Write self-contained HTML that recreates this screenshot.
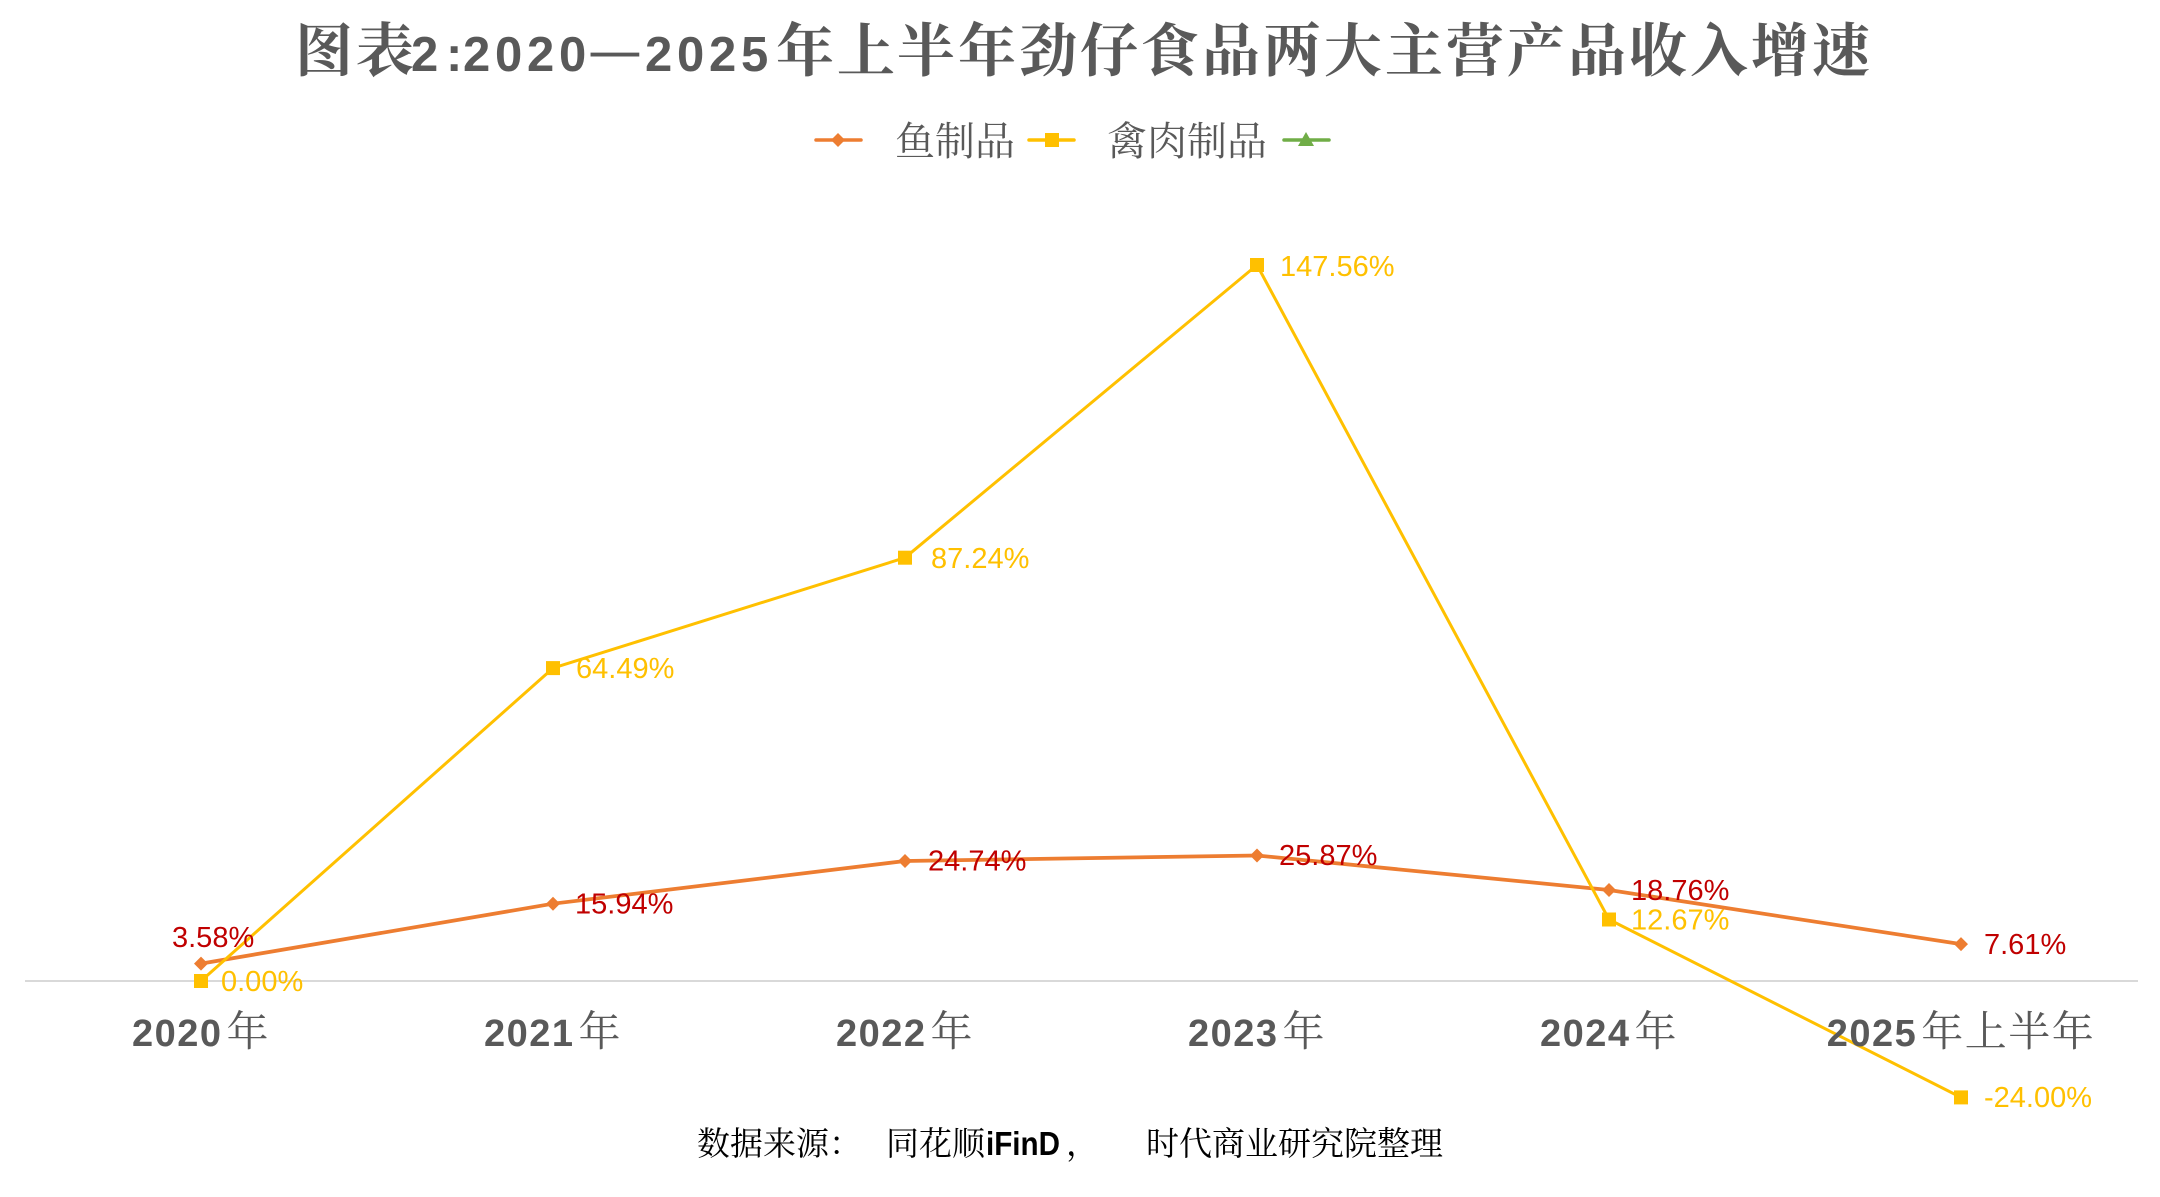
<!DOCTYPE html>
<html>
<head>
<meta charset="utf-8">
<style>
  html, body { margin: 0; padding: 0; background: #ffffff; }
  body { width: 2160px; height: 1197px; overflow: hidden; }
  svg { display: block; }
  .cjk { font-family: "Noto Serif CJK SC", "Noto Sans CJK SC", serif; }
  .num { font-family: "Liberation Sans", "Noto Sans CJK SC", sans-serif; }
</style>
</head>
<body>
<svg width="2160" height="1197" viewBox="0 0 2160 1197" xmlns="http://www.w3.org/2000/svg">
  <rect x="0" y="0" width="2160" height="1197" fill="#ffffff"/>

  <!-- Title -->
  <g fill="#595959">
    <text class="cjk" y="71" font-size="58" font-weight="bold" x="295 356">图表</text>
    <text class="num" y="71" font-size="49" font-weight="bold" x="411 446 463 495 527 559">2:2020</text>
    <text class="cjk" y="71" font-size="58" font-weight="bold" x="588">—</text>
    <text class="num" y="71" font-size="49" font-weight="bold" x="645 677 709 741">2025</text>
    <text class="cjk" y="71" font-size="58" font-weight="bold"
      x="776 837 897 958 1019 1080 1141 1202 1263 1324 1385 1446 1507 1568 1629 1690 1751 1812">年上半年劲仔食品两大主营产品收入增速</text>
  </g>

  <!-- Legend -->
  <g>
    <line x1="816" y1="140" x2="861" y2="140" stroke="#ED7D31" stroke-width="3.5" stroke-linecap="round"/>
    <polygon points="838,133 845,140 838,147 831,140" fill="#ED7D31"/>
    <text class="cjk" x="895" y="155" font-size="40" fill="#595959">鱼制品</text>

    <line x1="1029" y1="140" x2="1074" y2="140" stroke="#FFC000" stroke-width="3.5" stroke-linecap="round"/>
    <rect x="1045" y="133" width="14" height="14" fill="#FFC000"/>
    <text class="cjk" x="1107" y="155" font-size="40" fill="#595959">禽肉制品</text>

    <line x1="1284" y1="140" x2="1329" y2="140" stroke="#70AD47" stroke-width="3.5" stroke-linecap="round"/>
    <polygon points="1306,132 1314,146 1298,146" fill="#70AD47"/>
  </g>

  <!-- Axis line -->
  <line x1="25" y1="981" x2="2138" y2="981" stroke="#D9D9D9" stroke-width="2"/>

  <!-- Fish series (orange) -->
  <polyline fill="none" stroke="#ED7D31" stroke-width="3.75" stroke-linejoin="round"
    points="201,963.6 553,903.7 905,861 1257,855.5 1609,890 1961,944.1"/>
  <g fill="#ED7D31">
    <polygon points="201,956.6 208,963.6 201,970.6 194,963.6"/>
    <polygon points="553,896.7 560,903.7 553,910.7 546,903.7"/>
    <polygon points="905,854 912,861 905,868 898,861"/>
    <polygon points="1257,848.5 1264,855.5 1257,862.5 1250,855.5"/>
    <polygon points="1609,883 1616,890 1609,897 1602,890"/>
    <polygon points="1961,937.1 1968,944.1 1961,951.1 1954,944.1"/>
  </g>

  <!-- Poultry series (yellow) -->
  <polyline fill="none" stroke="#FFC000" stroke-width="3" stroke-linejoin="round"
    points="201,981 553,668.1 905,557.7 1257,265 1609,919.5 1961,1097.4"/>
  <g fill="#FFC000">
    <rect x="194" y="974" width="14" height="14"/>
    <rect x="546" y="661.1" width="14" height="14"/>
    <rect x="898" y="550.7" width="14" height="14"/>
    <rect x="1250" y="258" width="14" height="14"/>
    <rect x="1602" y="912.5" width="14" height="14"/>
    <rect x="1954" y="1090.4" width="14" height="14"/>
  </g>

  <!-- Data labels: fish -->
  <g class="num" font-size="29" fill="#C00000">
    <text x="172" y="947">3.58%</text>
    <text x="575" y="913.5">15.94%</text>
    <text x="928" y="870.5">24.74%</text>
    <text x="1279" y="865">25.87%</text>
    <text x="1631" y="900">18.76%</text>
    <text x="1984" y="954">7.61%</text>
  </g>

  <!-- Data labels: poultry -->
  <g class="num" font-size="29" fill="#FFC000">
    <text x="221" y="991">0.00%</text>
    <text x="576" y="678">64.49%</text>
    <text x="931" y="568">87.24%</text>
    <text x="1280" y="276">147.56%</text>
    <text x="1631" y="929.5">12.67%</text>
    <text x="1984" y="1107">-24.00%</text>
  </g>

  <!-- Category labels -->
  <g fill="#595959" text-anchor="middle">
    <text x="201" y="1046" letter-spacing="1.5"><tspan class="num" font-size="38" font-weight="bold">2020</tspan><tspan class="cjk" font-size="42" dx="4">年</tspan></text>
    <text x="553" y="1046" letter-spacing="1.5"><tspan class="num" font-size="38" font-weight="bold">2021</tspan><tspan class="cjk" font-size="42" dx="4">年</tspan></text>
    <text x="905" y="1046" letter-spacing="1.5"><tspan class="num" font-size="38" font-weight="bold">2022</tspan><tspan class="cjk" font-size="42" dx="4">年</tspan></text>
    <text x="1257" y="1046" letter-spacing="1.5"><tspan class="num" font-size="38" font-weight="bold">2023</tspan><tspan class="cjk" font-size="42" dx="4">年</tspan></text>
    <text x="1609" y="1046" letter-spacing="1.5"><tspan class="num" font-size="38" font-weight="bold">2024</tspan><tspan class="cjk" font-size="42" dx="4">年</tspan></text>
    <text x="1961" y="1046" letter-spacing="1.5"><tspan class="num" font-size="38" font-weight="bold">2025</tspan><tspan class="cjk" font-size="42" dx="4">年上半年</tspan></text>
  </g>

  <!-- Source footer -->
  <g fill="#000000">
    <text class="cjk" x="697" y="1155" font-size="33">数据来源：</text>
    <text class="cjk" x="886" y="1155" font-size="33">同花顺</text>
    <text class="num" x="986" y="1155" font-size="33" font-weight="bold" textLength="74" lengthAdjust="spacingAndGlyphs">iFinD</text>
    <text class="cjk" x="1066" y="1155" font-size="33">，</text>
    <text class="cjk" x="1146" y="1155" font-size="33">时代商业研究院整理</text>
  </g>
</svg>
</body>
</html>
